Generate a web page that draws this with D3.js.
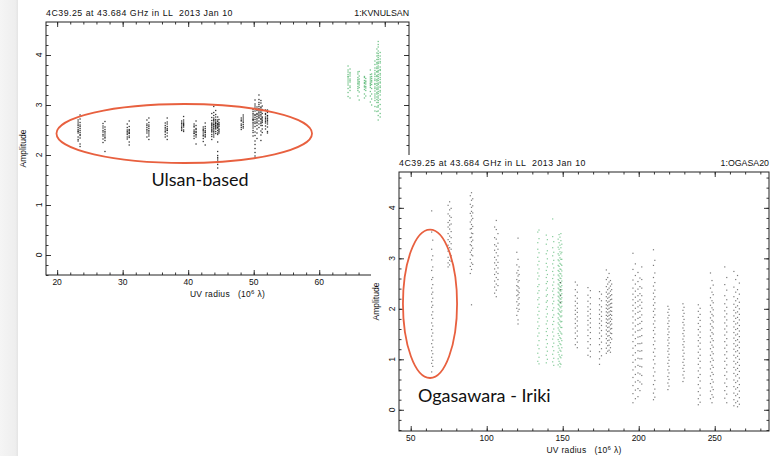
<!DOCTYPE html>
<html>
<head>
<meta charset="utf-8">
<script src="https://cdn.jsdelivr.net/npm/d3@7"></script>
<style>
  body { margin: 0; background: #fff; }
  svg { display: block; }
  .pg text { font-family: "Liberation Sans", Arial, sans-serif; fill: #111; white-space: pre; }
  .note { font-family: Lato, "Open Sans", sans-serif; fill: #111; }
</style>
</head>
<body>
<svg id="chart" width="773" height="456"></svg>
<script>
// Radial plots: visibility amplitude against UV radius (10^6 lambda).
// Each column is [uv radius, "amplitudes x100"] for one short scan.

const ulsanBlack = [
  [23.2, "262 248 255 231 270 244 259 236 251 266 228 247"],
  [23.5, "280 253 241 265 222 257 239 249 272 234 260 245 217"],
  [27.0, "254 238 263 225 246 241 232 258 249"],
  [27.3, "267 236 244 229 251 240 207 247 234 256"],
  [30.7, "250 241 262 236 247 232 255 244"],
  [31.0, "268 244 251 238 226 257 243 249 235 246 220"],
  [33.7, "262 251 244 270 255 236 248 259"],
  [34.0, "274 257 249 242 265 253 238 246 260 231"],
  [36.5, "259 248 264 241 252 236 255 246"],
  [36.8, "274 262 250 244 257 238 249 266 231 253"],
  [39.0, "262 255 268 249 258 264 252"],
  [39.3, "277 259 266 250 261 256 270 247 263"],
  [40.9, "256 243 262 238 250 247 233 258 244"],
  [41.2, "268 251 241 259 236 247 253 222 245 240"],
  [42.3, "248 240 256 233 252 244 227 238 250"],
  [42.6, "264 245 236 253 241 249 220 246 257 238"],
  [43.6, "262 248 275 255 241 269 252 237 260 246 283 258 231 264 250"],
  [43.9, "297 271 258 266 244 279 253 262 247 269 285 256 240 274 261 250 236"],
  [44.2, "276 262 268 254 281 259 247 265 271 256 243 263 289 252 258"],
  [44.5, "270 258 263 249 276 254 261 241 267 255 244 226 207 195 188 181 174 199 185 192"],
  [44.7, "265 252 260 247 271 257 244 262 250"],
  [48.1, "268 259 274 262 255 270 251"],
  [48.4, "280 265 257 272 261 268 254 276"],
  [49.9, "287 272 265 280 258 291 269 276 254 283 262 249 271 245 238"],
  [50.2, "310 294 281 298 275 288 266 302 279 271 257 263 246 239 228 221 213 205 198 194"],
  [50.5, "296 283 277 289 270 264 292 259 281 273 252 266 244 233"],
  [50.8, "320 305 297 288 311 293 279 301 285 274 291 268 282 262 276 255"],
  [51.1, "304 296 281 309 288 273 294 266 285 278 259 271 248 263 240 229"],
  [51.3, "289 276 298 270 283 265 291 259 274 252 268 245"],
  [51.8, "283 270 290 276 264 281 258 273 267 252"],
  [52.1, "290 278 269 285 272 262 279 256 266 247 274 244"]
];

const ulsanGreen = [
  [64.4, "378 361 352 370 344 357 333 366 348 325 340 356 317"],
  [64.7, "365 349 372 338 358 329 346 362 335 314 352"],
  [65.9, "362 348 355 337 366 342 329 351 318 344 333"],
  [66.1, "367 352 340 358 326 347 335 310 344"],
  [66.9, "355 343 349 331 357 338 322 345 314 336"],
  [67.1, "348 337 353 329 342 318 334 346"],
  [67.8, "370 356 342 361 335 348 327 352 318 339 306 344"],
  [68.0, "362 349 357 333 346 322 341 312 353 300"],
  [68.5, "388 374 361 381 352 369 343 357 336 364 328 349 318 341 309 333 297 322 288 314"],
  [68.8, "412 398 385 404 376 391 367 382 359 373 351 366 343 357 334 348 325 339 316 331 305 322 296 311 287"],
  [69.0, "427 416 403 421 395 408 386 399 378 391 369 383 361 374 353 366 344 357 336 349 327 341 318 332 309 323 299 314 288 305 279 296 270"],
  [69.3, "405 392 384 398 371 387 363 376 355 369 346 360 338 351 329 344 320 335 311 326 301 292 283 276"]
];

const ogasaBlack = [
  [63.8, "394 352 318 297 276 258 241 229 214 203 188 172 159 146 131 117 104 92 75"],
  [64.5, "336 305 283 262 248 233 221 207 194 181 166 152 138 124 111 98 86"],
  [74.6, "405 388 371 362 349 337 326 314 302 291 283"],
  [75.6, "412 396 384 375 366 358 344 333 321 309 296 287"],
  [76.6, "399 381 368 353 341 329 318 305 294"],
  [89.2, "424 407 389 372 358 341 327 312 298 284 270"],
  [90.0, "430 415 401 393 384 376 367 359 350 342 333 325 316 307 291 278 208"],
  [90.8, "418 404 390 379 363 349 336 320 305 288"],
  [105.2, "362 341 327 316 302 291 279 268 255 243 231"],
  [106.3, "375 357 338 324 311 297 286 273 262 249 237 224"],
  [107.4, "349 330 318 305 292 281 270 258 246"],
  [119.8, "312 287 271 258 246 237 226 214 201 187"],
  [120.6, "340 298 276 265 253 244 235 228 219 207 195 178 170"],
  [121.3, "283 268 256 241 232 222 210 199"],
  [148.5, "252 238 226 213"],
  [158.3, "253 238 226 215 206 197 189 180 171 162 152 141 129"],
  [159.6, "247 233 221 211 201 193 184 176 166 156 146 134 123"],
  [166.6, "242 227 215 204 195 186 177 168 158 147 135 122 108"],
  [168.2, "236 222 210 199 190 181 172 163 153 141 129 116 105"],
  [174.2, "234 220 208 198 189 180 171 162 152 141 129 115 101 90"],
  [175.5, "229 216 204 194 185 176 167 157 146 134 121 107"],
  [178.7, "277 258 244 233 224 216 208 201 194 187 180 173 166 158 150 141 132 122 112"],
  [179.6, "262 249 238 229 221 213 206 199 192 185 178 171 163 155 146 137 127 116"],
  [180.5, "270 253 241 231 223 215 208 201 194 187 180 172 164 156 147 138 128 118"],
  [181.4, "256 245 235 226 218 210 203 196 189 182 175 168 160 152 143 133 123 114"],
  [182.2, "249 238 228 219 211 203 195 187 179 170 161 151 140"],
  [196.2, "310 278 257 241 229 218 207 196 184 172 160 148 135 122 108 94 79 64 48 32 14"],
  [197.8, "289 266 249 235 223 212 201 190 178 166 154 141 127 113 99 85 70 55 39 22"],
  [199.5, "272 254 239 226 215 204 193 181 169 157 144 131 117 102 88 73 58 42 26"],
  [200.8, "261 244 230 218 207 195 183 171 158 145 131 116 101 86 71 55 38"],
  [202.0, "283 258 241 226 213 201 188 175 161 147 132 117 101 85 68 51"],
  [209.7, "317 286 262 245 231 219 207 195 183 170 157 143 129 114 99 83 67 50 33 20"],
  [210.6, "296 271 252 237 224 212 200 188 176 163 150 136 121 106 91 75 58 41 25"],
  [219.2, "205 193 182 171 160 149 138 127 116 104 92 79 66 53 40"],
  [219.9, "199 187 176 165 154 143 132 121 110 98 86 73 60 47"],
  [229.1, "210 197 185 173 162 151 140 129 118 106 94 82 69 56"],
  [229.8, "203 191 179 168 157 146 135 124 112 100 88 76 63"],
  [239.2, "208 195 183 171 159 148 137 126 114 102 90 77 64 50 36 22 10"],
  [240.4, "201 189 177 165 154 143 132 120 108 96 83 70 57 43 29 15"],
  [247.2, "271 241 222 207 194 182 170 158 146 134 121 108 95 81 67 52 37 22"],
  [248.2, "256 233 216 202 189 177 165 153 141 128 115 102 88 74 60 45 30 14"],
  [249.0, "247 228 212 198 186 174 162 150 137 124 111 98 84 70 55 40 25"],
  [256.6, "283 248 226 210 196 184 172 160 148 135 122 109 96 82 68 53 38 23"],
  [257.9, "262 237 218 203 190 178 166 154 141 128 115 102 89 75 61 46 31 14"],
  [262.6, "274 243 224 209 197 186 175 164 153 142 131 120 108 96 84 72 59 46 33 20 8"],
  [263.8, "258 233 216 203 192 181 170 159 148 137 126 115 103 91 79 67 54 41 28 14"],
  [265.0, "266 238 220 206 194 183 172 161 150 139 128 117 106 94 82 70 57 44 31 17 6"],
  [266.2, "251 229 213 200 189 178 167 156 145 134 123 112 100 88 76 63 50 37 24 11"]
];

const ogasaGreen = [
  [133.6, "352 331 318 302 287 271 259 244 231 218 203 188 174 161 146 128 112 96"],
  [134.4, "356 339 311 294 279 265 248 236 222 209 195 181 166 152 137 121 104 91"],
  [139.2, "346 328 309 290 276 262 250 237 225 213 199 184 170 155 139 124 108 93"],
  [139.9, "337 315 299 283 268 254 241 228 216 204 190 176 161 147 131 116 100"],
  [143.4, "378 343 321 305 289 274 260 247 235 222 210 197 183 169 154 140 125 110 95"],
  [144.1, "333 312 296 281 267 253 240 228 215 202 188 175 160 146 132 117 102 88"],
  [147.0, "338 322 309 297 286 276 267 258 249 241 233 225 217 209 200 191 182 172 162 151 139 127 114 101 89"],
  [147.6, "347 331 318 306 295 284 274 265 256 247 239 231 223 215 207 198 189 179 169 158 147 135 122 109 96"],
  [148.2, "342 326 313 301 290 279 270 261 252 244 236 228 220 212 204 195 186 176 166 155 143 131 118 105 92 85"],
  [148.8, "349 335 321 309 298 288 278 269 260 251 243 235 227 219 211 202 193 184 174 163 152 141 129 116 103 90"],
  [149.4, "328 312 298 286 275 265 255 246 238 230 222 214 205 196 186 175 163 150 137 123 108"]
];

// Axis tick values
const ulsanTicksX = [20, 30, 40, 50, 60];
const ogasaTicksX = [50, 100, 150, 200, 250];
const ampTicks = [0, 1, 2, 3, 4];

const titleText = "4C39.25 at 43.684 GHz in LL  2013 Jan 10";
const ulsanStation = "1:KVNULSAN";
const ogasaStation = "1:OGASA20";

// Highlight ellipses, in data units: [uv centre, amp centre, uv half-width, amp half-height]
const ulsanRing = [39.4, 2.43, 19.5, 0.59];
const ogasaRing = [62.7, 2.10, 17.8, 1.47];
const ulsanNote = ["Ulsan-based", 34.4, 1.38];
const ogasaNote = ["Ogasawara - Iriki", 54.8, 0.16];

const svg = d3.select("#chart");

// soft grey strip along the left edge
const defs = svg.append("defs");
const grad = defs.append("linearGradient").attr("id", "edge");
grad.append("stop").attr("offset", "0%").attr("stop-color", "#f5f5f5");
grad.append("stop").attr("offset", "85%").attr("stop-color", "#eeeeee");
grad.append("stop").attr("offset", "100%").attr("stop-color", "#e4e4e4");
svg.append("rect").attr("x", 0).attr("y", 0).attr("width", 18).attr("height", 456)
  .attr("fill", "url(#edge)");

function parseCols(cols) {
  return cols.flatMap(([u, s]) => s.trim().split(/\s+/).map(v => ({ u, amp: +v / 100 })));
}

function drawPanel(cfg) {
  const g = svg.append("g").attr("class", "pg");
  const { x0, x1, y0, y1 } = cfg.box;
  const x = d3.scaleLinear().domain(cfg.xDomain).range([x0, x1]);
  const y = d3.scaleLinear().domain(cfg.yDomain).range([y1, y0]);

  if (cfg.panelBg) {
    g.append("rect").attr("x", cfg.panelBg[0]).attr("y", cfg.panelBg[1])
      .attr("width", cfg.panelBg[2]).attr("height", cfg.panelBg[3]).attr("fill", "#fff");
  }

  const range = (d, step) => d3.range(Math.ceil(d[0] / step) * step, d[1] + 1e-9, step);
  const xMaj = range(cfg.xDomain, cfg.xMajor), xMin = range(cfg.xDomain, cfg.xMinor);
  const yMaj = range(cfg.yDomain, 1), yMin = range(cfg.yDomain, 0.2);

  const tickSets = [
    [d3.axisBottom(x), `translate(0,${y1})`, xMaj, xMin],
    [d3.axisTop(x), `translate(0,${y0})`, xMaj, xMin],
    [d3.axisLeft(y), `translate(${x0},0)`, yMaj, yMin],
    [d3.axisRight(y), `translate(${x1},0)`, yMaj, yMin]
  ];
  tickSets.forEach(([ax, tr, maj, min]) => {
    [[maj, -5], [min, -2.5]].forEach(([vals, size]) => {
      const a = g.append("g").attr("transform", tr)
        .call(ax.tickValues(vals).tickSize(size).tickFormat(""));
      a.select(".domain").remove();
      a.selectAll("line").attr("stroke", "#222").attr("stroke-width", 0.9);
    });
  });

  g.append("rect").attr("x", x0).attr("y", y0).attr("width", x1 - x0).attr("height", y1 - y0)
    .attr("fill", "none").attr("stroke", "#222").attr("stroke-width", 1);

  // data points
  const dots = g.append("g");
  cfg.series.forEach(s => {
    dots.append("g").selectAll("rect").data(parseCols(s.cols)).join("rect")
      .attr("x", d => x(d.u) - s.size / 2).attr("y", d => y(d.amp) - s.size / 2)
      .attr("width", s.size).attr("height", s.size)
      .attr("fill", s.color).attr("fill-opacity", s.opacity);
  });

  // tick labels
  g.append("g").selectAll("text").data(cfg.xLabels).join("text")
    .attr("x", d => x(d)).attr("y", y1 + 10)
    .attr("text-anchor", "middle").attr("font-size", 8.5).text(d => d);
  g.append("g").selectAll("text").data(ampTicks).join("text")
    .attr("transform", d => `translate(${x0 - 4.5},${y(d)}) rotate(-90)`)
    .attr("text-anchor", "middle").attr("font-size", 8.5).text(d => d);

  // axis titles
  const xl = g.append("text").attr("x", (x0 + x1) / 2).attr("y", y1 + 22)
    .attr("text-anchor", "middle").attr("font-size", 8.5).attr("letter-spacing", 0.3);
  xl.append("tspan").text("UV radius   (10");
  xl.append("tspan").attr("dy", -3.5).attr("font-size", 6).text("6");
  xl.append("tspan").attr("dy", 3.5).text(" \u03bb)");
  g.append("text")
    .attr("transform", `translate(${x0 - 20},${(y0 + y1) / 2}) rotate(-90)`)
    .attr("text-anchor", "middle").attr("font-size", 8.5).text("Amplitude");

  g.append("text").attr("x", x0).attr("y", y0 - 6).attr("font-size", 8.8)
    .attr("letter-spacing", 0.5).text(titleText);
  g.append("text").attr("x", x1).attr("y", y0 - 6).attr("text-anchor", "end")
    .attr("font-size", 8.8).text(cfg.station);

  // highlight ring and caption
  const [cu, ca, ru, ra] = cfg.ring;
  svg.append("ellipse")
    .attr("cx", x(cu)).attr("cy", y(ca))
    .attr("rx", Math.abs(x(cu + ru) - x(cu))).attr("ry", Math.abs(y(ca + ra) - y(ca)))
    .attr("fill", "none").attr("stroke", "#e8603f").attr("stroke-width", 1.8);
  svg.append("text").attr("class", "note")
    .attr("x", x(cfg.note[1])).attr("y", y(cfg.note[2]))
    .attr("font-size", 18).text(cfg.note[0]);
}

drawPanel({
  box: { x0: 46, x1: 409, y0: 22, y1: 275 },
  xDomain: [18.3, 73.7], yDomain: [-0.4, 4.66],
  xMajor: 10, xMinor: 2, xLabels: ulsanTicksX,
  station: ulsanStation,
  series: [
    { cols: ulsanBlack, color: "#000", opacity: 0.8, size: 1.3 },
    { cols: ulsanGreen, color: "#4fb46c", opacity: 0.8, size: 1.3 }
  ],
  ring: ulsanRing, note: ulsanNote
});

drawPanel({
  box: { x0: 399, x1: 769, y0: 172, y1: 431 },
  panelBg: [371, 155, 402, 301],
  xDomain: [42.3, 285.7], yDomain: [-0.42, 4.71],
  xMajor: 50, xMinor: 10, xLabels: ogasaTicksX,
  station: ogasaStation,
  series: [
    { cols: ogasaGreen, color: "#4fb46c", opacity: 0.7, size: 1.2 },
    { cols: ogasaBlack, color: "#222", opacity: 0.6, size: 1.2 }
  ],
  ring: ogasaRing, note: ogasaNote
});
</script>
</body>
</html>
